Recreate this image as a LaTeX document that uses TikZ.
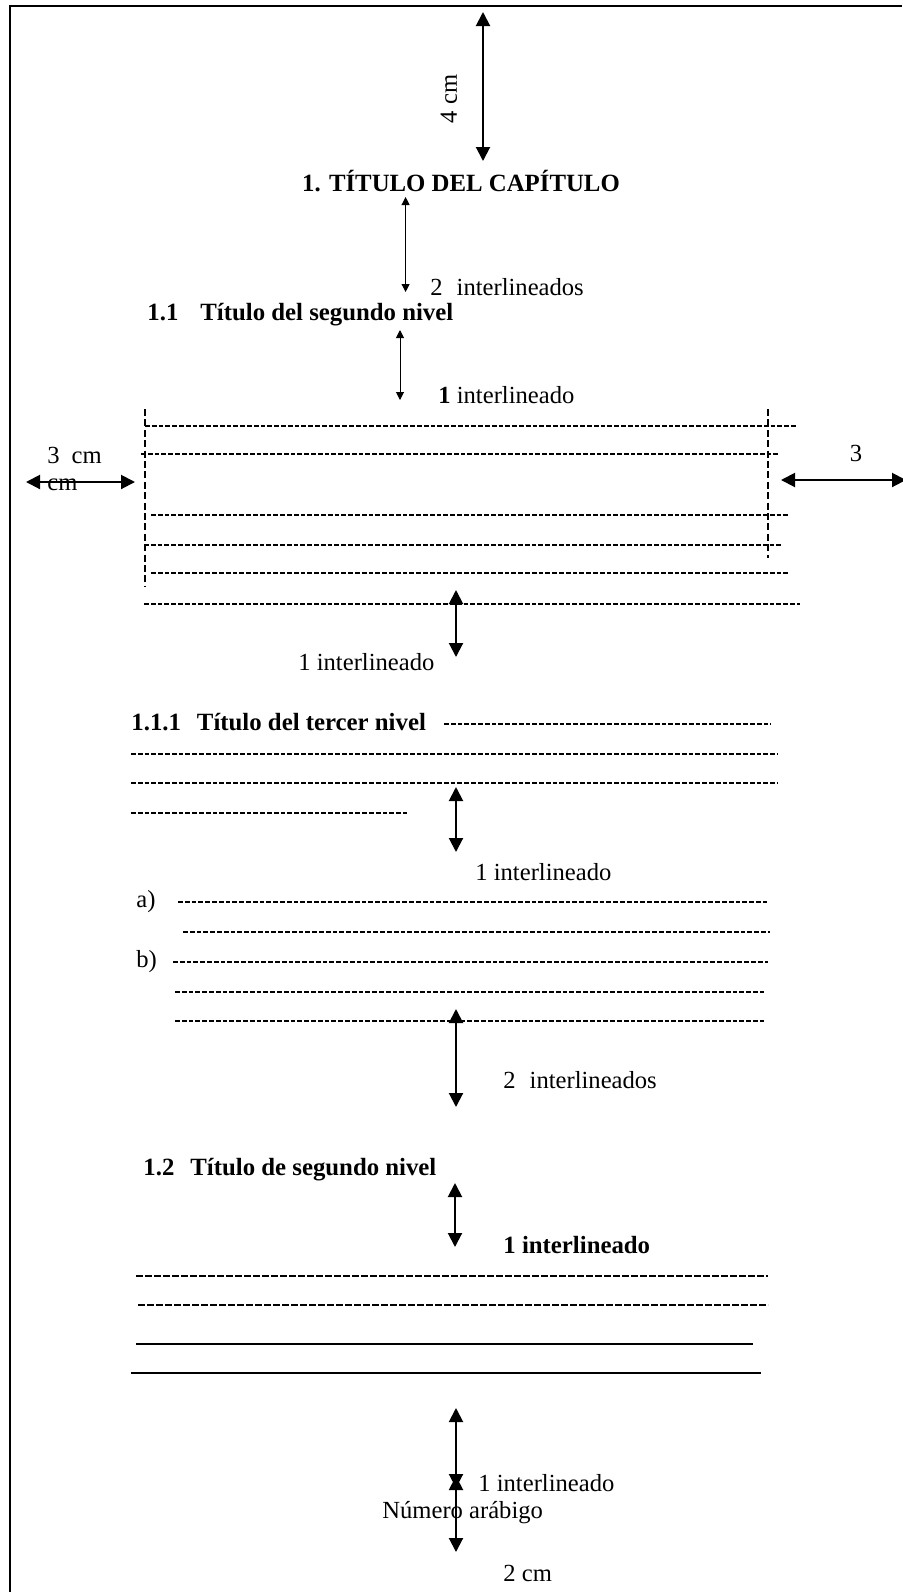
\documentclass[tikz,border=0pt]{standalone}
\usepackage{fontspec}
\setmainfont{Liberation Serif}
\usetikzlibrary{arrows.meta}
\begin{document}
\begin{tikzpicture}[x=0.5pt,y=-0.5pt,
  txt/.style={inner sep=0pt, font=\fontsize{12.3}{14}\selectfont},
  btxt/.style={inner sep=0pt, font=\fontsize{12.4}{14}\selectfont\bfseries},
  dim/.style={line width=1pt, {Triangle[width=7pt,length=7pt]}-{Triangle[width=7pt,length=7pt]}},
  dimthin/.style={line width=0.5pt, {Triangle[width=4pt,length=4pt]}-{Triangle[width=4pt,length=4pt]}},
  hyph/.style={line width=0.65pt, dash pattern=on 2.4pt off 1pt},
  vdash/.style={line width=0.75pt, dash pattern=on 3.5pt off 1.7pt},
  bhyph/.style={line width=1.4pt, dash pattern=on 3.6pt off 0.9pt},
  rulel/.style={line width=0.55pt}
]
\useasboundingbox (0,0) rectangle (902,1592);
\fill[white] (0,0) rectangle (902,1592);
% frame
\coordinate (fb) at (10,1592);
\coordinate (fc) at (10,6);
\coordinate (fr) at (902,6);
\draw[line width=1.1pt] (fb) -- (fc) -- (fr);

% 4 cm
\coordinate (a1t) at (483,12);
\coordinate (a1b) at (483,161);
\draw[dim] (a1t) -- (a1b);
\node[txt, rotate=90] (l4cm) at (449,99) {4 cm};

\node[btxt] (t1) at (461,181) {1. TÍTULO DEL CAPÍTULO};

\coordinate (a2t) at (405.6,197);
\coordinate (a2b) at (405.6,292);
\draw[dimthin] (a2t) -- (a2b);
\node[txt, anchor=west] (l2a) at (430,287) {2\hspace{7pt}interlineados};

\node[btxt, anchor=west] (t11) at (147,315) {1.1\hspace{11pt}Título del segundo nivel};

\coordinate (a3t) at (400,330);
\coordinate (a3b) at (400,400);
\draw[dimthin] (a3t) -- (a3b);
\node[txt, anchor=west] (l3a) at (438,395) {\textbf{1} interlineado};

% margin box lines
\coordinate (vl1) at (145,409); \coordinate (vl2) at (145,587);
\coordinate (vr1) at (768,409); \coordinate (vr2) at (768,558);
\draw[vdash] (vl1) -- (vl2);
\draw[vdash] (vr1) -- (vr2);
\coordinate (h1a) at (145,426); \coordinate (h1b) at (796,426);
\coordinate (h2a) at (141,454); \coordinate (h2b) at (780,454);
\coordinate (h3a) at (151,515); \coordinate (h3b) at (790,515);
\coordinate (h4a) at (144,545); \coordinate (h4b) at (782,545);
\coordinate (h5a) at (151,573); \coordinate (h5b) at (788,573);
\coordinate (h6a) at (144,604); \coordinate (h6b) at (800,604);
\draw[hyph] (h1a) -- (h1b);
\draw[hyph] (h2a) -- (h2b);
\draw[hyph] (h3a) -- (h3b);
\draw[hyph] (h4a) -- (h4b);
\draw[hyph] (h5a) -- (h5b);
\draw[hyph] (h6a) -- (h6b);

% left margin
\coordinate (lm1) at (26,482); \coordinate (lm2) at (135,482);
\node[txt, anchor=west] (l3cm) at (47,455) {3\hspace{6pt}cm};
\node[txt, anchor=west] (lcm) at (47,485) {cm};
\draw[dim] (lm1) -- (lm2);
% right margin
\coordinate (rm1) at (781,480); \coordinate (rm2) at (906,480);
\draw[dim] (rm1) -- (rm2);
\node[txt] (l3r) at (856,453) {3};

\coordinate (a4t) at (456,590);
\coordinate (a4b) at (456,657);
\draw[dim] (a4t) -- (a4b);
\node[txt, anchor=west] (l4a) at (298,662) {1 interlineado};

\node[btxt, anchor=west] (t111) at (131,722) {1.1.1\hspace{8pt}Título del tercer nivel};
\coordinate (p1a) at (444,724); \coordinate (p1b) at (771,724);
\coordinate (p2a) at (131,754); \coordinate (p2b) at (778,754);
\coordinate (p3a) at (131,783); \coordinate (p3b) at (778,783);
\coordinate (p4a) at (131,813); \coordinate (p4b) at (407,813);
\draw[hyph] (p1a) -- (p1b);
\draw[hyph] (p2a) -- (p2b);
\draw[hyph] (p3a) -- (p3b);
\draw[hyph] (p4a) -- (p4b);

\coordinate (a5t) at (456,787);
\coordinate (a5b) at (456,852);
\draw[dim] (a5t) -- (a5b);
\node[txt, anchor=west] (l5a) at (475,872) {1 interlineado};

\node[txt, anchor=west] (la) at (136,902) {a)};
\coordinate (q1a) at (178,902); \coordinate (q1b) at (767,902);
\coordinate (q2a) at (183,932); \coordinate (q2b) at (770,932);
\node[txt, anchor=west] (lb) at (136,962) {b)};
\coordinate (q3a) at (173,962); \coordinate (q3b) at (768,962);
\coordinate (q4a) at (175,992); \coordinate (q4b) at (764,992);
\coordinate (q5a) at (175,1021); \coordinate (q5b) at (764,1021);
\draw[hyph] (q1a) -- (q1b);
\draw[hyph] (q2a) -- (q2b);
\draw[hyph] (q3a) -- (q3b);
\draw[hyph] (q4a) -- (q4b);
\draw[hyph] (q5a) -- (q5b);

\coordinate (a6t) at (456,1009);
\coordinate (a6b) at (456,1107);
\draw[dim] (a6t) -- (a6b);
\node[txt, anchor=west] (l6a) at (503,1080) {2\hspace{7pt}interlineados};

\node[btxt, anchor=west] (t12) at (143,1170) {1.2\hspace{8pt}Título de segundo nivel};

\coordinate (a7t) at (455,1183);
\coordinate (a7b) at (455,1247);
\draw[dim] (a7t) -- (a7b);
\node[btxt, anchor=west] (l7a) at (503,1245) {1 interlineado};

\coordinate (r1a) at (136,1276); \coordinate (r1b) at (768,1276);
\coordinate (r2a) at (138,1305); \coordinate (r2b) at (768,1305);
\draw[bhyph] (r1a) -- (r1b);
\draw[bhyph] (r2a) -- (r2b);
\coordinate (s1a) at (136,1344); \coordinate (s1b) at (753,1344);
\coordinate (s2a) at (131,1373); \coordinate (s2b) at (761,1373);
\draw[rulel] (s1a) -- (s1b);
\draw[rulel] (s2a) -- (s2b);

\coordinate (a8t) at (456,1408);
\coordinate (a8b) at (456,1488);
\draw[dim] (a8t) -- (a8b);
\coordinate (a9t) at (456,1476);
\coordinate (a9b) at (456,1552);
\draw[dim] (a9t) -- (a9b);
\node[txt, anchor=west] (l8a) at (478,1483) {1 interlineado};
\node[txt, anchor=west] (lnum) at (382,1513) {Número arábigo};
\node[txt, anchor=west] (l2cm) at (503,1573) {2 cm};
\end{tikzpicture}
\end{document}
